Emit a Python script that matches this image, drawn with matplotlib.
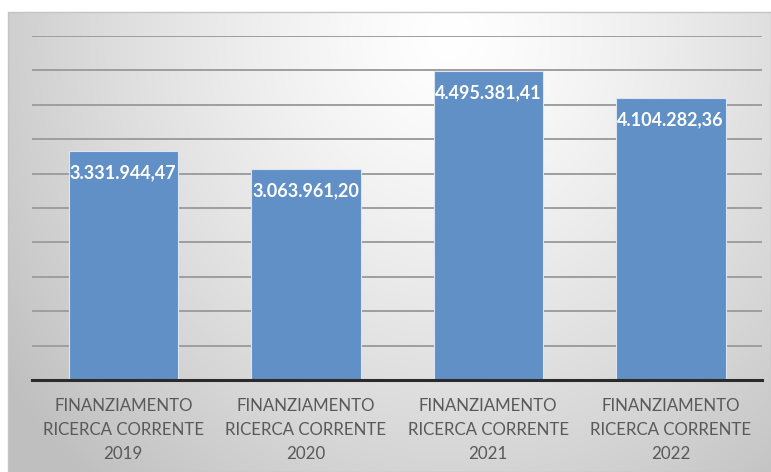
import matplotlib.pyplot as plt
import numpy as np
from matplotlib.patches import Rectangle

# data
years = ["2019", "2020", "2021", "2022"]
amounts = [3331944.47, 3063961.20, 4495381.41, 4104282.36]
category_text = "FINANZIAMENTO\nRICERCA CORRENTE\n"

bar_color = "#6190c6"
grid_color = "#9e9e9e"
text_gray = "#595959"


def it_format(v):
    s = f"{v:,.2f}"
    return s.replace(",", "X").replace(".", ",").replace("X", ".")


W, H = 771, 472
fig = plt.figure(figsize=(W / 100, H / 100), dpi=100)
fig.patch.set_facecolor("white")

# gradient background of the chart area
bg = fig.add_axes([8 / W, 0, (W - 8) / W, (H - 12) / H], zorder=0)
gx, gy = np.meshgrid(np.linspace(0, 1, 400), np.linspace(0, 1, 300))
d = np.sqrt(((gx - 0.58) / 0.72) ** 2 + ((gy - 0.05) / 1.3) ** 2)
shade = 1.0 - 0.25 * np.clip(d, 0, 1) ** 1.3
bg.imshow(np.dstack([shade] * 3), aspect="auto", extent=(0, 1, 1, 0))
bg.set_axis_off()
fig.add_artist(Rectangle((8 / W, 0), (W - 8) / W, (H - 12) / H,
                         transform=fig.transFigure, fill=False,
                         edgecolor="#c4c4c4", lw=1, zorder=1))

ax = fig.add_axes([32 / W, 92 / H, 730 / W, 344 / H], zorder=2)
ax.patch.set_alpha(0)
x = np.arange(len(years))
bars = ax.bar(x, amounts, width=0.6, color=bar_color, edgecolor="#dce6f2",
              linewidth=0.8, zorder=3)

ax.set_xlim(-0.5, len(years) - 0.5)
ax.set_ylim(0, 5000000)
for yv in np.arange(500000, 5000001, 500000):
    ax.axhline(yv, color=grid_color, lw=1.4, zorder=1)
ax.axhline(0, color="#2b2b2b", lw=2.2, zorder=4, clip_on=False)

for i, v in enumerate(amounts):
    ax.annotate(it_format(v), (x[i], v), xytext=(0, -22), textcoords="offset pixels",
                ha="center", va="center", color="white", fontsize=13,
                fontweight="bold", family="Lato", zorder=5)

ax.set_xticks(x)
ax.set_xticklabels([category_text + y for y in years], fontsize=12.2,
                   family="Lato", color=text_gray, linespacing=1.6)
ax.tick_params(axis="x", length=0, pad=13)
ax.set_yticks([])
for s in ax.spines.values():
    s.set_visible(False)

fig.savefig("out.png", dpi=100)
